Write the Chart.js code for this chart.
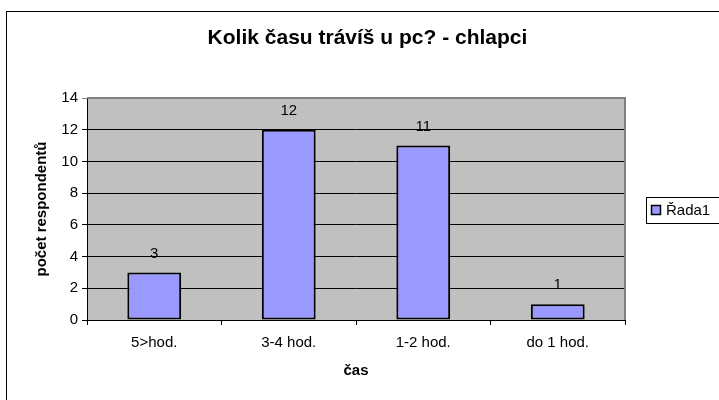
<!DOCTYPE html>
<html>
<head>
<meta charset="utf-8">
<script src="https://cdn.jsdelivr.net/npm/chart.js@4"></script>
<style>
  html, body { margin: 0; padding: 0; background: #fff; }
  #wrap { width: 719px; height: 400px; position: relative; }
</style>
</head>
<body>
<div id="wrap"><canvas id="c" width="719" height="400"></canvas></div>
<script>
const categories = ['5>hod.', '3-4 hod.', '1-2 hod.', 'do 1 hod.'];
const values = [3, 12, 11, 1];
const seriesName = 'Řada1';
const chartTitle = 'Kolik času trávíš u pc? - chlapci';
const xTitle = 'čas';
const yTitle = 'počet respondentů';
const yMin = 0, yMax = 14, yStep = 2;

const FONT = "'Liberation Sans', Arial, sans-serif";
const BAR = '#9999FF';

const decor = {
  id: 'decor',
  beforeDraw(chart) {
    const { ctx, chartArea: a } = chart;
    ctx.save();
    ctx.fillStyle = '#C0C0C0';
    ctx.fillRect(a.left, a.top, a.right - a.left, a.bottom - a.top);
    ctx.restore();
  },
  beforeDatasetsDraw(chart) {
    const { ctx, chartArea: a } = chart;
    ctx.save();
    ctx.strokeStyle = '#808080';
    ctx.lineWidth = 2;
    ctx.beginPath();
    ctx.moveTo(a.left, a.top);
    ctx.lineTo(a.right, a.top);
    ctx.lineTo(a.right, a.bottom);
    ctx.stroke();
    ctx.restore();
  },
  afterDatasetsDraw(chart) {
    const { ctx } = chart;
    const meta = chart.getDatasetMeta(0);
    ctx.save();
    ctx.fillStyle = '#000';
    ctx.font = '15px ' + FONT;
    ctx.textAlign = 'center';
    ctx.textBaseline = 'middle';
    meta.data.forEach((bar, i) => {
      ctx.fillText(String(chart.data.datasets[0].data[i]), bar.x, bar.y - 19);
    });
    ctx.restore();
  },
  afterDraw(chart) {
    const { ctx } = chart;
    ctx.save();
    // title
    ctx.fillStyle = '#000';
    ctx.font = 'bold 21px ' + FONT;
    ctx.textAlign = 'center';
    ctx.textBaseline = 'middle';
    ctx.fillText(chartTitle, 367.5, 38);
    // outer frame
    ctx.strokeStyle = '#000';
    ctx.lineWidth = 1;
    ctx.strokeRect(6.5, 11.5, 800, 500);
    // legend
    ctx.strokeRect(646.5, 197.5, 100, 26);
    ctx.fillStyle = BAR;
    ctx.fillRect(651, 205, 10, 10);
    ctx.lineWidth = 1.5;
    ctx.strokeRect(651.5, 205.5, 9, 9);
    ctx.fillStyle = '#000';
    ctx.font = '15px ' + FONT;
    ctx.textAlign = 'left';
    ctx.textBaseline = 'middle';
    ctx.fillText(seriesName, 666, 211);
    ctx.restore();
  }
};

new Chart(document.getElementById('c'), {
  type: 'bar',
  data: {
    labels: categories,
    datasets: [{
      label: seriesName,
      data: values,
      backgroundColor: BAR,
      borderColor: '#000',
      borderWidth: 2,
      borderSkipped: false,
      categoryPercentage: 1,
      barPercentage: 0.4
    }]
  },
  options: {
    responsive: false,
    animation: false,
    devicePixelRatio: 1,
    layout: { padding: { top: 98, right: 94, left: 0, bottom: 0 } },
    plugins: {
      legend: { display: false },
      title: { display: false },
      tooltip: { enabled: false }
    },
    scales: {
      x: {
        afterFit(s) { s.height = 80; },
        grid: { offset: true, drawOnChartArea: false, drawTicks: true, tickLength: 5, color: '#000', lineWidth: 1 },
        border: { color: '#000', width: 1 },
        ticks: { color: '#000', padding: 9, font: { family: FONT, size: 15 } },
        title: { display: true, text: xTitle, color: '#000', padding: { top: 0, bottom: 20 }, font: { family: FONT, size: 15, weight: 'bold' } }
      },
      y: {
        min: yMin, max: yMax,
        afterFit(s) { s.width = 87; },
        grid: {
          color: (c) => (c.tick && c.tick.value === yMax ? '#808080' : '#000'),
          lineWidth: 1, drawTicks: true, tickLength: 5
        },
        border: { color: '#000', width: 1 },
        ticks: { stepSize: yStep, color: '#000', padding: 4, font: { family: FONT, size: 15 } },
        title: { display: true, text: yTitle, color: '#000', padding: { top: 33, bottom: 0 }, font: { family: FONT, size: 15, weight: 'bold' } }
      }
    }
  },
  plugins: [decor]
});
</script>
</body>
</html>
